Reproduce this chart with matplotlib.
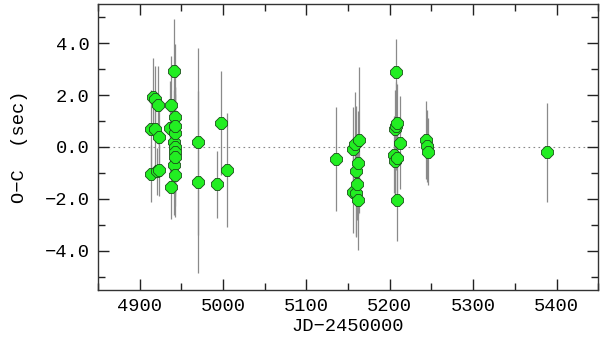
import matplotlib
matplotlib.use("Agg")
import matplotlib.pyplot as plt
from matplotlib.ticker import MultipleLocator, FuncFormatter

# JD-2450000, O-C (sec), error (sec)
jd = [4914, 4914, 4916, 4919, 4919, 4921, 4922, 4923, 4923, 4937,
      4938, 4938, 4941, 4941, 4941, 4942, 4942, 4942, 4942, 4943,
      4943, 4943, 4970, 4970, 4993, 4998, 5005, 5136, 5156, 5156,
      5158, 5159, 5160, 5161, 5162, 5162, 5163, 5205, 5206, 5206,
      5207, 5207, 5209, 5209, 5209, 5212, 5244, 5245, 5246, 5389]
oc = [0.70, -1.03, 1.94, 1.83, 0.70, -0.93, 1.63, 0.40, -0.88, 0.74,
      1.62, -1.56, 2.91, 0.20, -0.70, 0.55, 0.01, -0.18, -0.37, 1.17,
      0.81, -1.08, 0.20, -1.35, -1.44, 0.92, -0.88, -0.45, -0.08, -1.73,
      0.12, -0.91, -1.78, -1.42, -0.63, -2.06, 0.26, -0.29, -0.53, 0.68,
      0.81, 2.88, 0.94, -0.42, -2.06, 0.17, 0.26, 0.04, -0.18, -0.20]
err = [1.5, 1.1, 1.5, 1.3, 1.5, 0.9, 1.5, 1.3, 1.0, 1.8,
       1.9, 1.2, 2.0, 2.0, 1.9, 1.5, 2.3, 1.6, 1.5, 2.8,
       1.5, 1.6, 3.6, 3.5, 1.3, 2.0, 2.2, 2.0, 1.6, 1.6,
       2.0, 2.5, 1.7, 1.4, 2.0, 1.9, 2.8, 1.5, 1.4, 1.5,
       1.7, 1.27, 1.5, 1.6, 1.55, 1.8, 1.5, 1.4, 1.3, 1.9]

plt.rcParams['font.family'] = ['Liberation Mono', 'DejaVu Sans Mono']

fig = plt.figure(figsize=(6.0, 3.43), dpi=100)
ax = fig.add_axes([0.163, 0.155, 0.834, 0.833])

ax.axhline(0.0, color='#888888', lw=0.8, ls=(0, (1.5, 3)), zorder=1)
ax.errorbar(jd, oc, yerr=err, fmt='none', ecolor='#8a8a8a', elinewidth=0.9,
            capsize=0, zorder=2)
ax.plot(jd, oc, ls='none', marker='8', ms=8.6, mfc='#22ee22', mec='#1a4f1a',
        mew=0.6, zorder=3)

ax.set_xlim(4850, 5450)
ax.set_ylim(-5.5, 5.5)
ax.xaxis.set_major_locator(MultipleLocator(100))
ax.xaxis.set_minor_locator(MultipleLocator(50))
ax.yaxis.set_major_locator(MultipleLocator(2))
ax.yaxis.set_minor_locator(MultipleLocator(1))
ax.yaxis.set_major_formatter(FuncFormatter(lambda v, p: ("%.1f" % v).replace("-", "\u2212")))
ax.tick_params(which='both', direction='in', top=True, right=True,
               labelsize=13.5, color='#222222', width=1.0)
ax.tick_params(which='major', length=8, pad=6)
ax.tick_params(which='minor', length=5)
for s in ax.spines.values():
    s.set_color('#333333')
    s.set_linewidth(1.0)

ax.set_xlabel("JD\u22122450000", fontsize=13.5, labelpad=2)
ax.set_ylabel("O\u2212C  (sec)", fontsize=13.5, labelpad=12)

plt.savefig("out.png", dpi=100)
plt.close(fig)
